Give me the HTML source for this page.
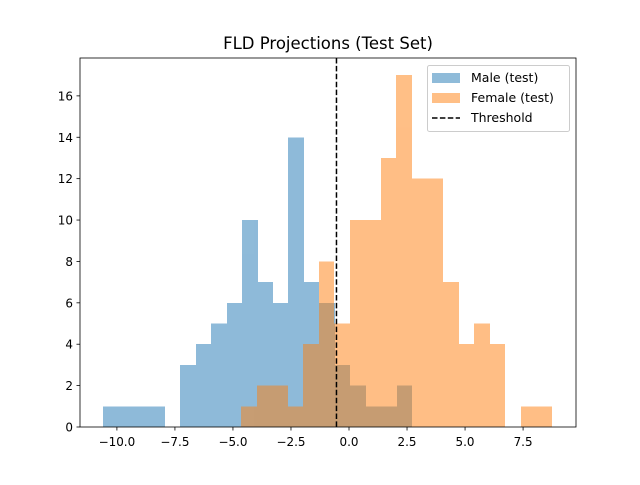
<!DOCTYPE html>
<html><head><meta charset="utf-8"><style>
body{margin:0;background:#fff;}
svg text{font-family:"DejaVu Sans","Liberation Sans",sans-serif;fill:#000;}
</style></head><body>
<svg id="chart" width="640" height="480" xmlns="http://www.w3.org/2000/svg">
<rect width="640" height="480" fill="#fff"/>
<text x="328" y="49" font-size="16.5" text-anchor="middle">FLD Projections (Test Set)</text>
<g id="bars" shape-rendering="crispEdges"></g>
<g id="axes"></g>
</svg>
<script>
const maleCounts=[1,1,1,1,0,3,4,5,6,10,7,6,14,7,6,3,2,1,1,2];
const maleStart=[-10.60];
const maleWidth=[0.666];
const femaleCounts=[1,2,2,1,4,8,5,10,10,13,17,12,12,7,4,5,4,0,1,1];
const femaleStart=[-4.655];
const femaleWidth=[0.670];
const threshold=[-0.54];
const xTicks=[-10,-7.5,-5,-2.5,0,2.5,5,7.5];
const xTickLabels=["−10.0","−7.5","−5.0","−2.5","0.0","2.5","5.0","7.5"];
const yTicks=[0,2,4,6,8,10,12,14,16];

const L=80,R=576,T=58,B=427;
const xMin=-11.59,xMax=9.78,yMax=17.83;
const X=v=>L+(v-xMin)/(xMax-xMin)*(R-L);
const Y=v=>B-v/yMax*(B-T);
const NS="http://www.w3.org/2000/svg";
function mk(tag,attrs,parent){const e=document.createElementNS(NS,tag);for(const k in attrs)e.setAttribute(k,attrs[k]);parent.appendChild(e);return e;}
const bars=document.getElementById('bars'),axes=document.getElementById('axes');

function drawHist(counts,start,w,color,name){
  const g=mk('g',{opacity:0.5},bars);
  counts.forEach((c,i)=>{
    if(c<=0)return;
    const x0=Math.round(X(start+i*w)),x1=Math.round(X(start+(i+1)*w));
    const r=mk('rect',{x:x0,y:Y(c),width:x1-x0,height:Y(0)-Y(c),fill:color},g);
    
    
  });
}
drawHist(maleCounts,maleStart[0],maleWidth[0],'#1f77b4','male');
drawHist(femaleCounts,femaleStart[0],femaleWidth[0],'#ff7f0e','female');

const th=mk('line',{x1:X(threshold[0]),x2:X(threshold[0]),y1:T,y2:B,stroke:'#000','stroke-width':1.5,'stroke-dasharray':'5.5,2.4'},axes);



const frame=mk('rect',{x:L,y:T,width:R-L,height:B-T,fill:'none',stroke:'#000','stroke-width':0.8},axes);



xTicks.forEach((t,i)=>{
  const x=X(t);
  const tk=mk('line',{x1:x,x2:x,y1:B,y2:B+3.5,stroke:'#000','stroke-width':0.8},axes);
  
  
  const tx=mk('text',{x:x,y:B+19,'font-size':13.9*0.86,'text-anchor':'middle'},axes);
  tx.textContent=xTickLabels[i];
  
  
});
yTicks.forEach(t=>{
  const y=Y(t);
  const tk=mk('line',{x1:L-3.5,x2:L,y1:y,y2:y,stroke:'#000','stroke-width':0.8},axes);
  
  
  const tx=mk('text',{x:L-7,y:y+4.5,'font-size':13.9*0.86,'text-anchor':'end'},axes);
  tx.textContent=t;
  
  
});

const lg=mk('g',{},axes);


mk('rect',{x:427.5,y:65.5,width:142,height:66,rx:2,fill:'#fff','fill-opacity':0.8,stroke:'#ccc'},lg);
const entries=[['Male (test)','#1f77b4','rect'],['Female (test)','#ff7f0e','rect'],['Threshold','#000','line']];
entries.forEach((e,i)=>{
  const y=77+i*20;
  const g=mk('g',{},lg);
  
  
  if(e[2]==='rect')mk('rect',{x:432,y:y-4,width:28,height:10,fill:e[1],'fill-opacity':0.5},g);
  else mk('line',{x1:432,x2:460,y1:y+1,y2:y+1,stroke:'#000','stroke-width':1.5,'stroke-dasharray':'5.5,2.4'},g);
  const t=mk('text',{x:471,y:y+5,'font-size':12.5},g);
  t.textContent=e[0];
});
</script>
</body></html>
